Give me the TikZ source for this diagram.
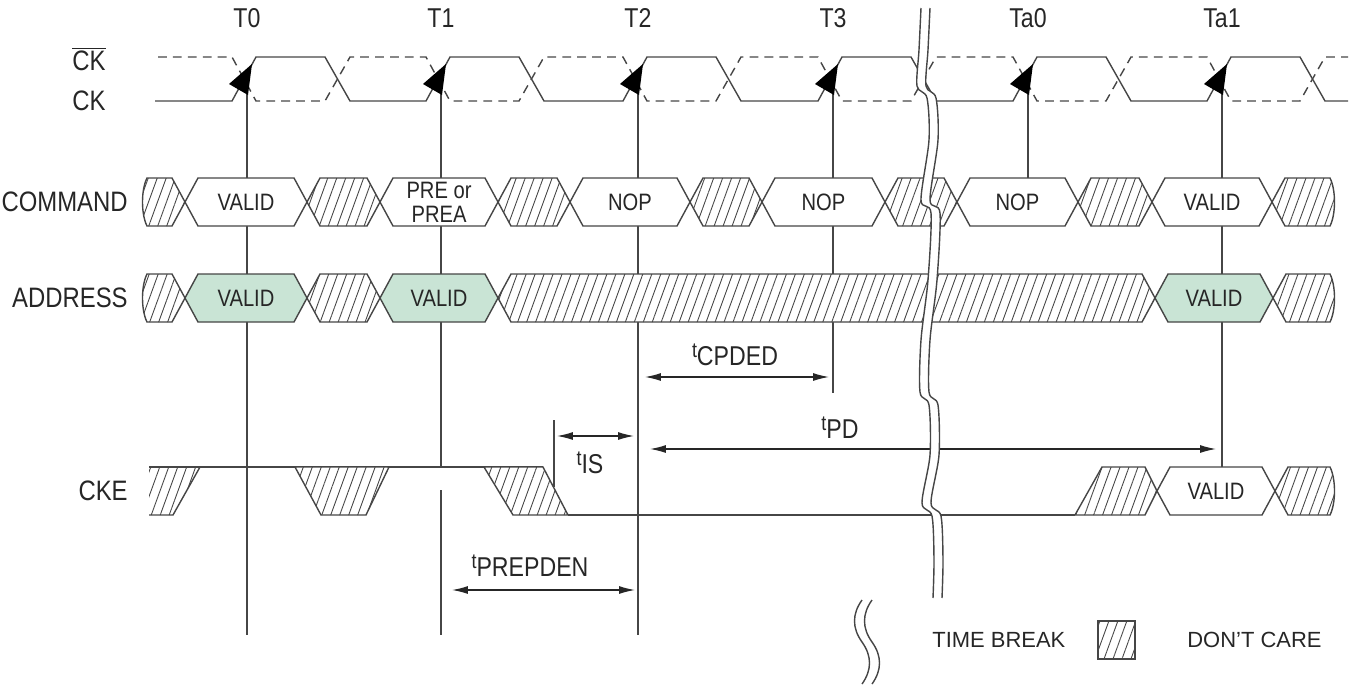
\documentclass[tikz,border=0pt]{standalone}
\usepackage{fontspec}
\setmainfont{Liberation Sans}
\newfontfamily\narrowfont[FakeStretch=0.85]{Liberation Sans}
\usepackage{tikz}
\usetikzlibrary{arrows.meta}
\usetikzlibrary{patterns.meta}
\definecolor{linegray}{RGB}{70,70,70}
\definecolor{validgreen}{RGB}{201,228,213}
\newcommand{\tparam}[1]{\raisebox{4.5pt}{\fontsize{12}{12}\selectfont t}#1}
\tikzset{
  wave/.style={draw=linegray, line width=0.8pt},
  wavebar/.style={wave, dash pattern=on 5pt off 3.5pt},
  tickline/.style={draw=linegray, line width=0.7pt},
  dcfill/.style={pattern={Lines[angle=70,distance=4.8pt,line width=0.5pt]}, pattern color=linegray},
  dontcare/.style={wave, preaction={fill=white}, dcfill},
  validbox/.style={wave, fill=white},
  addrbox/.style={wave, fill=validgreen},
  signame/.style={font=\narrowfont\fontsize{16}{18}\selectfont, text=black!85, anchor=east, inner sep=0pt},
  boxtext/.style={font=\narrowfont\fontsize{13.5}{13.5}\selectfont, text=black!85, align=center, inner sep=0pt},
  timelabel/.style={font=\narrowfont\fontsize{15.5}{17}\selectfont, text=black!85, inner sep=0pt},
  legendtext/.style={font=\fontsize{12.5}{14}\selectfont, text=black!85, anchor=west, inner sep=0pt},
  timing/.style={draw=black!85, line width=0.7pt, {Latex[length=9pt,width=4.5pt]}-{Latex[length=9pt,width=4.5pt]}},
  clkarrow/.style={fill=black}
}
\begin{document}
\begin{tikzpicture}[x=0.02cm, y=-0.02cm]
\useasboundingbox (0,0) rectangle (1360,684);

\node[timelabel] (T0) at (247,18) {T0};
\node[timelabel] (T1) at (441,18) {T1};
\node[timelabel] (T2) at (638,18) {T2};
\node[timelabel] (T3) at (833,18) {T3};
\node[timelabel] (Ta0) at (1028,18) {Ta0};
\node[timelabel] (Ta1) at (1222,18) {Ta1};

\node[signame] (ckbar) at (106,59) {$\overline{\mbox{CK}}$};
\node[signame] (ck) at (106,101) {CK};
\node[signame] (command) at (128,202) {COMMAND};
\node[signame] (address) at (128,298) {ADDRESS};
\node[signame] (cke) at (128,491) {CKE};

\draw[tickline] (247,85) -- (247,635);
\draw[tickline] (441,85) -- (441,467);
\draw[tickline] (441,490) -- (441,635);
\draw[tickline] (638,85) -- (638,635);
\draw[tickline] (833,85) -- (833,393);
\draw[tickline] (1028,85) -- (1028,182);
\draw[tickline] (1222,85) -- (1222,467);

\draw[wavebar] (158,57) \foreach \c in {247,441,638,833,1028,1222} { -- ({\c-15},57) -- ({\c+9},101) -- ({\c+78},101) -- ({\c+103},57) } -- (1348,57);
\draw[wave] (155,101) \foreach \c in {247,441,638,833,1028,1222} { -- ({\c-15},101) -- ({\c+9},57) -- ({\c+78},57) -- ({\c+103},101) } -- (1348,101);
\foreach \c in {247,441,638,833,1028,1222}
  \fill[clkarrow] ({\c+5},64) -- ({\c-18},84) -- ({\c+1},95) -- cycle;

\begin{scope}[shift={(0,202)}]
\draw[dontcare] (147,-24) -- (172,-24) -- (185,0) -- (172,24) -- (147,24) .. controls (141,12) and (141,-12) .. (147,-24) -- cycle;
\foreach \a/\b in {307/380, 498/570, 690/762, 885/957, 1078/1152}
  \draw[dontcare] (\a,0) -- ({\a+13},-24) -- ({\b-13},-24) -- (\b,0) -- ({\b-13},24) -- ({\a+13},24) -- cycle;
\foreach \a/\b/\txt in {185/307/VALID, 380/498/{PRE or\\PREA}, 570/690/NOP, 762/885/NOP, 957/1078/NOP, 1152/1272/VALID} {
  \draw[validbox] (\a,0) -- ({\a+13},-24) -- ({\b-13},-24) -- (\b,0) -- ({\b-13},24) -- ({\a+13},24) -- cycle;
  \node[boxtext] (cmd\a) at ({(\a+\b)/2},0) {\txt};
}
\draw[dontcare] (1272,0) -- (1285,-24) -- (1330,-24) .. controls (1336,-12) and (1336,12) .. (1330,24) -- (1285,24) -- cycle;
\end{scope}

\begin{scope}[shift={(0,298)}]
\draw[dontcare] (147,-24) -- (172,-24) -- (185,0) -- (172,24) -- (147,24) .. controls (141,12) and (141,-12) .. (147,-24) -- cycle;
\foreach \a/\b in {307/380, 498/1155}
  \draw[dontcare] (\a,0) -- ({\a+13},-24) -- ({\b-13},-24) -- (\b,0) -- ({\b-13},24) -- ({\a+13},24) -- cycle;
\foreach \a/\b in {185/307, 380/498, 1155/1273} {
  \draw[addrbox] (\a,0) -- ({\a+13},-24) -- ({\b-13},-24) -- (\b,0) -- ({\b-13},24) -- ({\a+13},24) -- cycle;
  \node[boxtext] (addr\a) at ({(\a+\b)/2},0) {VALID};
}
\draw[dontcare] (1273,0) -- (1286,-24) -- (1330,-24) .. controls (1336,-12) and (1336,12) .. (1330,24) -- (1286,24) -- cycle;
\end{scope}

\begin{scope}[shift={(0,491)}]
\fill[dcfill] (149,-24) -- (200,-24) -- (173,24) -- (149,24) -- cycle;
\draw[wave] (149,24) -- (173,24) -- (200,-24);
\draw[wave] (149,-24) -- (543,-24);
\draw[dontcare] (295,-24) -- (389,-24) -- (366,24) -- (321,24) -- cycle;
\draw[dontcare] (484,-24) -- (543,-24) -- (568,24) -- (513,24) -- cycle;
\draw[wave] (568,24) -- (1075,24);
\draw[dontcare] (1075,24) -- (1102,-24) -- (1145,-24) -- (1157,0) -- (1145,24) -- cycle;
\draw[validbox] (1157,0) -- (1170,-24) -- (1262,-24) -- (1275,0) -- (1262,24) -- (1170,24) -- cycle;
\node[boxtext] (ckevalid) at (1216,0) {VALID};
\draw[dontcare] (1275,0) -- (1288,-24) -- (1330,-24) .. controls (1336,-12) and (1336,12) .. (1330,24) -- (1288,24) -- cycle;
\end{scope}

\draw[tickline] (554,420) -- (554,487);
\coordinate (cpdedL) at (645,377);
\coordinate (cpdedR) at (829,377);
\coordinate (pdL) at (650,449);
\coordinate (pdR) at (1216,449);
\coordinate (isL) at (557,436);
\coordinate (isR) at (634,436);
\coordinate (prepL) at (452,590);
\coordinate (prepR) at (635,590);
\draw[timing] (cpdedL) -- (cpdedR);
\draw[timing] (pdL) -- (pdR);
\draw[timing] (isL) -- (isR);
\draw[timing] (prepL) -- (prepR);
\node[timelabel] (tcpded) at (735,355) {\tparam{CPDED}};
\node[timelabel] (tpd) at (840,428) {\tparam{PD}};
\node[timelabel] (tis) at (590,463) {\tparam{IS}};
\node[timelabel] (tprepden) at (530,566) {\tparam{PREPDEN}};

\fill[white] plot[smooth, tension=0.5] coordinates {(921,8) (919,50) (917,86) (927,98) (929,140) (921,200) (931,213) (928,280) (921,340) (920,392) (929,405) (930,455) (922,503) (932,516) (934,560) (933,598)}
  -- plot[smooth, tension=0.5] coordinates {(942,598) (943,560) (941,516) (931,503) (939,455) (938,405) (929,392) (930,340) (937,280) (940,213) (930,200) (938,140) (936,98) (926,86) (928,50) (930,8)} -- cycle;
\draw[wave] plot[smooth, tension=0.5] coordinates {(921,8) (919,50) (917,86) (927,98) (929,140) (921,200) (931,213) (928,280) (921,340) (920,392) (929,405) (930,455) (922,503) (932,516) (934,560) (933,598)};
\draw[wave] plot[smooth, tension=0.5] coordinates {(930,8) (928,50) (926,86) (936,98) (938,140) (930,200) (940,213) (937,280) (930,340) (929,392) (938,405) (939,455) (931,503) (941,516) (943,560) (942,598)};

\draw[wave] (862,600) .. controls (852,614) and (852,628) .. (862,642) .. controls (872,656) and (872,670) .. (862,684);
\draw[wave] (872,600) .. controls (862,614) and (862,628) .. (872,642) .. controls (882,656) and (882,670) .. (872,684);
\node[legendtext] (timebreak) at (932,640) {TIME BREAK};
\draw[dontcare] (1098,621) rectangle (1135,659);
\node[legendtext] (dontcarelbl) at (1187,640) {DON'T CARE};
\end{tikzpicture}
\end{document}
